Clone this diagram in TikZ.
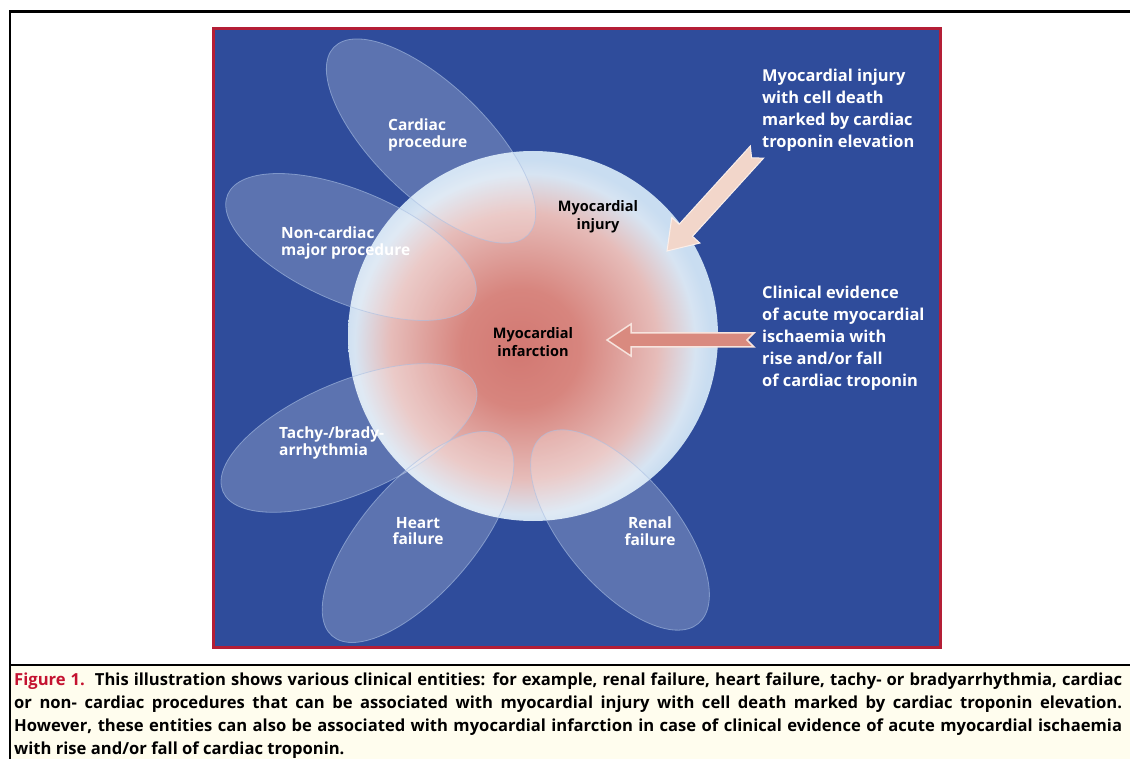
\documentclass[tikz,border=0pt]{standalone}
\usepackage{fontspec}
\setmainfont{Open Sans}
\newfontfamily\labelfont{Open Sans}
\usetikzlibrary{shapes.geometric,calc}

\definecolor{bgblue}{HTML}{2F4C9B}
\definecolor{panelred}{HTML}{B41E36}
\definecolor{capbg}{HTML}{FFFDEE}
\definecolor{capred}{HTML}{C41230}
\definecolor{infred}{HTML}{D27872}
\definecolor{infred2}{HTML}{D7857E}
\definecolor{midpink}{HTML}{E6BCB9}
\definecolor{paleblue}{HTML}{D7E4F2}
\definecolor{edgeblue}{HTML}{C9DDF1}
\definecolor{petaledge}{HTML}{A9BFE3}
\definecolor{arrowAfill}{HTML}{F2D6CA}
\definecolor{arrowAedge}{HTML}{FBEFEA}
\definecolor{arrowBfill}{HTML}{D98A7F}
\definecolor{arrowBedge}{HTML}{F7E4DE}

\pgfdeclareradialshading{mishade}{\pgfpoint{-2bp}{-2bp}}{color(0bp)=(infred); color(8bp)=(infred2); color(18bp)=(midpink); color(23bp)=(paleblue); color(25bp)=(edgeblue); color(50bp)=(edgeblue)}

\tikzset{
  petal/.style={ellipse, inner sep=0pt, fill=white, fill opacity=0.22, draw=petaledge, draw opacity=0.6, line width=0.8pt},
  wlab/.style={text=white, font=\labelfont\bfseries\fontsize{15.5}{16.7}\selectfont, inner sep=0pt},
  blab/.style={text=black, font=\labelfont\bfseries\fontsize{14.5}{18}\selectfont, inner sep=0pt, align=center},
  rlab/.style={text=white, font=\labelfont\bfseries\fontsize{16.4}{22}\selectfont, inner sep=0pt, align=left, anchor=north west},
  arrowA/.style={fill=arrowAfill, draw=arrowAedge, line width=1pt, line join=miter},
  arrowB/.style={fill=arrowBfill, draw=arrowBedge, line width=1.5pt, line join=miter},
  capline/.style={line width=2.2pt, black},
}

\begin{document}
\begin{tikzpicture}[x=1pt,y=-1pt]
\useasboundingbox (0,0) rectangle (1130,759);
\fill[white] (0,0) rectangle (1130,759);

% caption band and frame
\fill[capbg] (10,665) rectangle (1130,759);
\draw[capline] (10,759) -- (10,11.5) -- (1130,11.5);
\draw[capline] (10,665) -- (1130,665);

% blue panel
\fill[bgblue] (213,29) rectangle (940,647);
\draw[panelred, line width=3pt] (213,29) rectangle (940,647);

% central circle
\node[circle, minimum size=370pt, inner sep=0pt, shading=mishade] (circ) at (533,336) {};

% petals
\node[petal, minimum width=270pt, minimum height=112pt, rotate=-44] (pcard) at (431,141) {};
\node[petal, minimum width=268pt, minimum height=112pt, rotate=-23] (pnon) at (351,247) {};
\node[petal, minimum width=274pt, minimum height=112pt, rotate=23] (parr) at (349,438) {};
\node[petal, minimum width=262pt, minimum height=112pt, rotate=49] (pheart) at (418,537) {};
\node[petal, minimum width=244pt, minimum height=112pt, rotate=-50] (prenal) at (620,530) {};

% petal labels
\node[wlab, align=left, anchor=north west] (lcard) at (388,119) {Cardiac\\procedure};
\node[wlab, align=left, anchor=north west] (lnon) at (281,227) {Non-cardiac\\major procedure};
\node[wlab, align=left, anchor=north west] (larr) at (279,427) {Tachy-/brady-\\arrhythmia};
\node[wlab, align=center, anchor=north] (lheart) at (418,517) {Heart\\failure};
\node[wlab, align=center, anchor=north] (lrenal) at (650,517) {Renal\\failure};

% circle labels
\node[blab, anchor=north] (linj) at (598,200) {Myocardial\\injury};
\node[blab, anchor=north] (linf) at (533,327) {Myocardial\\infarction};

% right-hand texts
\node[rlab] (tinj) at (762,69) {Myocardial injury\\with cell death\\marked by cardiac\\troponin elevation};
\node[rlab] (tinf) at (762,286) {Clinical evidence\\of acute myocardial\\ischaemia with\\rise and/or fall\\of cardiac troponin};

% arrow 1 (injury)
\coordinate (a1tail) at (757,152);
\coordinate (a1tip) at (667,251);
\coordinate (a1B) at ($(a1tip)!28pt!(a1tail)$);
\coordinate (a1N) at ($(a1tail)!8pt!(a1tip)$);
\filldraw[arrowA] (a1tip) -- ($(a1B)!19pt!90:(a1tail)$) -- ($(a1B)!9pt!90:(a1tail)$) -- ($(a1tail)!9pt!-90:(a1tip)$) -- (a1N) -- ($(a1tail)!9pt!90:(a1tip)$) -- ($(a1B)!9pt!-90:(a1tail)$) -- ($(a1B)!19pt!-90:(a1tail)$) -- cycle;

% arrow 2 (infarction)
\coordinate (a2tail) at (754,340);
\coordinate (a2tip) at (607,340);
\coordinate (a2B) at ($(a2tip)!24pt!(a2tail)$);
\coordinate (a2N) at ($(a2tail)!7pt!(a2tip)$);
\filldraw[arrowB] (a2tip) -- ($(a2B)!16pt!90:(a2tail)$) -- ($(a2B)!7pt!90:(a2tail)$) -- ($(a2tail)!7pt!-90:(a2tip)$) -- (a2N) -- ($(a2tail)!7pt!90:(a2tip)$) -- ($(a2B)!7pt!-90:(a2tail)$) -- ($(a2B)!16pt!-90:(a2tail)$) -- cycle;

% caption
\node[anchor=north west, inner sep=0pt, align=left, font=\bfseries\fontsize{16.6}{22.8}\selectfont] (caption) at (14,673) {%
\makebox[1108pt][s]{\textcolor{capred}{Figure 1.}\ \ This illustration shows various clinical entities: for example, renal failure, heart failure, tachy- or bradyarrhythmia, cardiac}\\
\makebox[1108pt][s]{or non- cardiac procedures that can be associated with myocardial injury with cell death marked by cardiac troponin elevation.}\\
\makebox[1108pt][s]{However, these entities can also be associated with myocardial infarction in case of clinical evidence of acute myocardial ischaemia}\\
with rise and/or fall of cardiac troponin.};
\end{tikzpicture}
\end{document}
